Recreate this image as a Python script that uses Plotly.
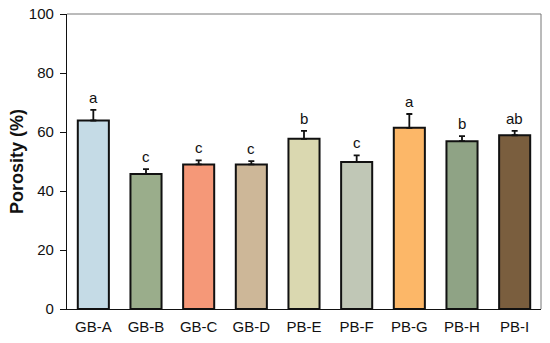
import plotly.graph_objects as go

categories = ["GB-A", "GB-B", "GB-C", "GB-D", "PB-E", "PB-F", "PB-G", "PB-H", "PB-I"]
porosity = [63.9, 45.8, 49.0, 49.0, 57.7, 49.8, 61.4, 56.9, 58.9]
errors = [3.6, 1.6, 1.4, 1.1, 2.7, 2.3, 4.7, 1.7, 1.5]
letters = ["a", "c", "c", "c", "b", "c", "a", "b", "ab"]
colors = ["#c5dbe6", "#9aad8b", "#f59878", "#cdb798", "#dad8b0",
          "#c0c7b6", "#fcb768", "#8fa385", "#7a5e3e"]
y_ticks = [0, 20, 40, 60, 80, 100]

FONT = "Liberation Sans, Arial, sans-serif"

fig = go.Figure()
fig.add_trace(go.Bar(
    x=categories, y=porosity,
    marker=dict(color=colors, line=dict(color="#111111", width=2)),
    error_y=dict(type="data", array=errors, arrayminus=[0]*len(errors),
                 symmetric=False, color="#111111", thickness=1.8, width=3),
    width=0.59,
    hoverinfo="skip",
))

for c, v, e, l in zip(categories, porosity, errors, letters):
    fig.add_annotation(x=c, y=v + e, text=l, showarrow=False,
                       yanchor="bottom", yshift=2,
                       font=dict(family=FONT, size=15, color="#111111"))

fig.add_shape(type="line", xref="paper", yref="paper", x0=0, x1=1, y0=1, y1=1,
              line=dict(color="#777777", width=1))
fig.add_shape(type="line", xref="paper", yref="paper", x0=1, x1=1, y0=0, y1=1,
              line=dict(color="#777777", width=1))

fig.update_layout(
    width=550, height=343,
    margin=dict(l=67, r=9, t=14, b=34, autoexpand=False),
    paper_bgcolor="white", plot_bgcolor="white",
    showlegend=False,
    font=dict(family=FONT, size=15, color="#111111"),
    xaxis=dict(range=[-0.5, 8.5], showline=True, linecolor="#111111", linewidth=1.2,
               ticks="", showgrid=False, tickfont=dict(size=15), automargin=False,
               ticklabelstandoff=4),
    yaxis=dict(range=[0, 100], tickvals=y_ticks, showline=True, linecolor="#111111",
               linewidth=1.2, ticks="outside", ticklen=6, tickcolor="#111111",
               showgrid=False, zeroline=False, tickfont=dict(size=15), automargin=False,
               ticklabelstandoff=3,
               title=dict(text="<b>Porosity (%)</b>", font=dict(size=18), standoff=0)),
)

fig.write_html("out.html", config={"displayModeBar": False},
               post_script="document.body.style.margin='0';document.body.style.overflow='hidden';")
